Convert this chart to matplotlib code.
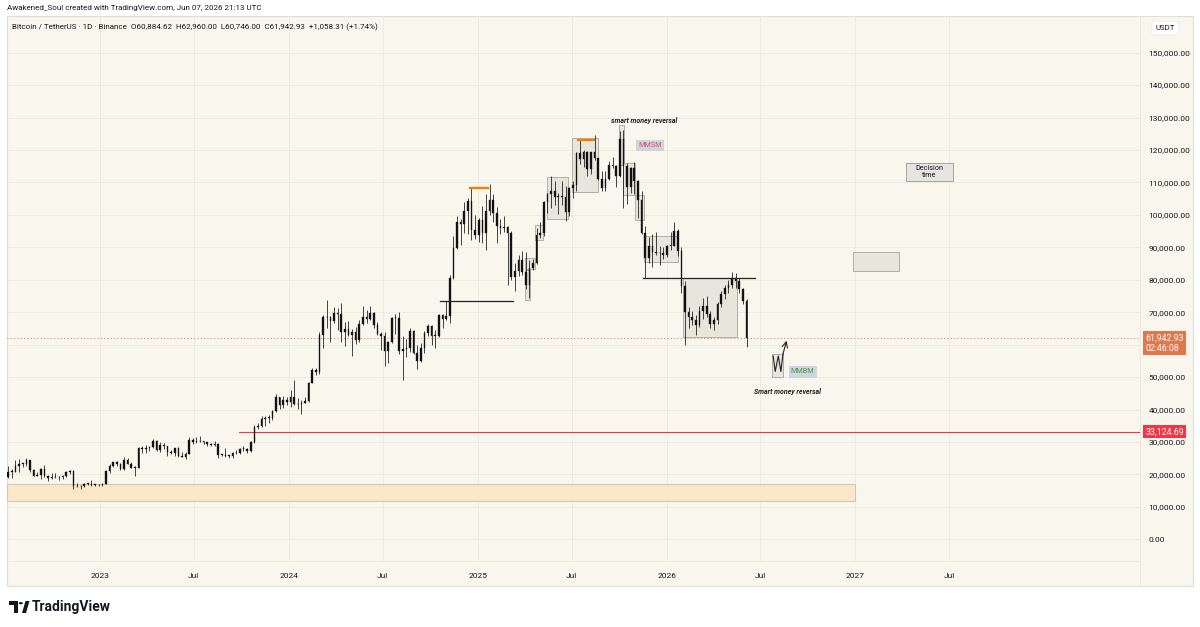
import numpy as np
import pandas as pd
import matplotlib
matplotlib.use("Agg")
import matplotlib.pyplot as plt
import matplotlib.dates as mdates
import matplotlib.transforms as mtransforms
from matplotlib.patches import Rectangle, Polygon, Circle

plt.rcParams['font.family'] = ['Roboto', 'DejaVu Sans']

# BTC/USDT weekly candles (thousands of USDT)
first_open = 19.3
closes_2022 = [20.8, 20.8, 22.6, 23.3, 23.2, 24.3, 21.5, 19.6, 19.8, 21.8, 19.4, 18.8, 19.3,
               19.1, 19.2, 19.6, 20.6, 21.0, 16.3, 16.3, 16.4, 17.1, 17.1, 16.8, 16.8, 16.6]
highs_2022 = [22.5, 21.6, 24.3, 24.7, 23.6, 25.0, 24.4, 21.8, 20.6, 21.9, 22.8, 19.7, 20.4,
              20.5, 19.5, 19.7, 21.0, 21.5, 21.4, 17.2, 16.7, 17.4, 17.4, 18.4, 17.0, 16.9]
lows_2022 = [19.0, 18.9, 20.8, 20.7, 22.4, 22.7, 20.8, 19.5, 19.6, 18.5, 19.3, 18.1, 18.5,
             19.0, 18.2, 18.6, 19.2, 20.0, 15.6, 16.2, 15.5, 16.0, 16.7, 16.5, 16.3, 16.3]

closes_2023 = [17.1, 20.9, 22.7, 23.7, 23.3, 21.8, 24.3, 23.2, 22.0, 22.1, 28.0, 27.9, 28.2,
               28.3, 30.3, 27.6, 29.2, 28.7, 26.9, 26.7, 28.1, 25.8, 25.5, 26.3, 30.5, 30.1,
               30.2, 30.2, 29.9, 29.3, 29.0, 29.3, 26.0, 26.0, 25.8, 25.8, 26.5, 26.5, 27.9,
               27.9, 27.1, 30.0, 34.5, 35.0, 37.1, 37.4, 37.4, 39.5, 43.8, 41.4, 42.8, 42.3]
highs_2023 = [17.2, 21.3, 23.1, 23.8, 24.2, 23.4, 25.3, 25.2, 23.9, 22.6, 28.4, 28.9, 29.2,
              28.8, 31.0, 30.5, 30.0, 29.8, 28.9, 27.5, 28.2, 28.4, 27.0, 26.8, 31.4, 31.3,
              31.5, 31.8, 30.4, 30.0, 29.7, 30.2, 29.6, 26.2, 28.2, 26.0, 26.9, 27.5, 28.0,
              28.6, 28.0, 30.4, 35.2, 35.9, 38.0, 37.9, 38.4, 39.7, 44.7, 43.9, 44.3, 43.8]
lows_2023 = [16.5, 17.1, 20.4, 22.3, 22.5, 21.5, 21.4, 23.1, 21.9, 19.6, 21.9, 26.6, 26.5,
             27.2, 28.1, 27.1, 26.9, 27.7, 25.8, 26.3, 25.8, 25.4, 25.3, 24.8, 26.2, 29.5,
             29.7, 30.0, 29.5, 28.9, 28.6, 28.7, 25.2, 25.6, 25.5, 24.9, 24.9, 26.3, 26.2,
             27.2, 26.5, 26.9, 29.8, 34.1, 34.5, 34.8, 35.7, 36.7, 39.3, 40.2, 40.6, 41.5]

closes_2024 = [43.9, 41.7, 41.6, 42.1, 42.6, 48.3, 52.1, 51.7, 63.1, 68.4, 68.4, 67.2, 69.7,
               69.4, 63.9, 64.9, 63.1, 63.9, 61.5, 66.3, 68.5, 67.8, 69.6, 66.2, 63.2, 62.7,
               58.0, 60.8, 68.2, 68.2, 58.1, 58.7, 58.9, 64.3, 57.3, 54.8, 59.1, 63.6, 65.6,
               62.8, 62.8, 69.0, 68.0, 68.7, 80.4, 89.8, 97.9, 97.2, 101.2, 104.4, 95.2, 93.7,
               98.4]
highs_2024 = [45.9, 49.0, 43.6, 42.9, 43.9, 48.5, 52.8, 52.9, 64.0, 69.0, 73.8, 68.9, 71.7,
              71.3, 72.8, 66.9, 67.3, 64.7, 65.5, 67.7, 71.9, 70.6, 72.0, 70.2, 67.0, 63.8,
              63.8, 61.0, 68.5, 69.4, 70.0, 62.7, 61.8, 65.0, 64.5, 59.8, 60.6, 64.1, 66.5,
              65.9, 64.5, 69.4, 69.5, 73.6, 81.5, 93.5, 99.6, 98.7, 103.9, 105.2, 108.3, 99.9,
              98.9]
lows_2024 = [40.7, 41.5, 40.3, 38.6, 41.9, 42.3, 48.1, 50.6, 51.0, 59.0, 65.0, 60.8, 66.6,
             64.5, 60.7, 59.6, 62.8, 56.6, 60.2, 60.8, 66.1, 66.6, 67.5, 65.1, 63.0, 58.4,
             53.5, 54.3, 60.6, 63.4, 57.1, 49.0, 56.1, 57.8, 57.2, 52.5, 54.6, 57.5, 62.7,
             59.8, 58.9, 62.4, 65.1, 67.5, 66.8, 80.2, 89.4, 90.8, 94.3, 94.2, 92.2, 92.5,
             91.5]

closes_2025 = [94.5, 101.3, 104.7, 100.6, 96.5, 96.1, 96.3, 94.3, 80.7, 82.6, 86.1, 82.4, 78.4,
               83.7, 85.2, 93.7, 94.3, 104.1, 106.4, 107.3, 105.6, 105.7, 105.5, 100.9, 108.4,
               109.2, 119.1, 117.3, 119.4, 114.2, 119.3, 117.4, 111.2, 108.2, 111.1, 115.3,
               115.2, 112.1, 123.5, 115.2, 108.6, 114.5, 110.5, 104.7, 94.5, 86.8, 90.4, 88.4,
               88.2, 88.1, 87.7, 90.5]
highs_2025 = [102.7, 106.4, 109.6, 106.5, 102.5, 98.8, 99.5, 96.5, 95.0, 85.3, 87.5, 88.8, 88.5,
              86.1, 86.4, 95.8, 97.9, 104.3, 106.6, 111.9, 110.4, 106.8, 110.4, 108.9, 108.5,
              110.5, 119.5, 123.2, 120.0, 119.8, 119.3, 124.5, 117.6, 113.5, 113.4, 116.7,
              117.9, 115.4, 125.7, 126.2, 116.0, 114.6, 116.4, 110.6, 107.5, 96.6, 93.1, 94.1,
              94.6, 90.4, 90.0, 90.7]
lows_2025 = [91.2, 89.3, 100.1, 97.7, 91.2, 94.1, 94.8, 78.3, 80.0, 76.6, 81.1, 81.6, 77.2,
             74.5, 83.1, 85.0, 92.9, 93.4, 100.7, 102.0, 103.1, 100.4, 103.1, 98.2, 99.6,
             105.1, 107.5, 115.7, 114.7, 112.0, 112.6, 116.8, 110.6, 107.3, 107.3, 110.6,
             114.4, 108.6, 111.6, 102.0, 103.5, 106.6, 106.3, 98.9, 94.0, 80.6, 85.3, 83.8,
             87.7, 84.4, 86.5, 86.9]

closes_2026 = [90.5, 95.0, 89.0, 78.0, 70.0, 68.5, 67.5, 66.0, 70.5, 72.0, 69.5, 66.5, 67.5,
               72.5, 75.5, 77.5, 78.5, 80.5, 79.5, 77.0, 73.5, 61.94293]
highs_2026 = [94.8, 97.9, 95.5, 90.0, 79.5, 71.5, 70.5, 69.0, 72.0, 74.5, 75.0, 70.5, 68.5,
              73.0, 76.5, 78.5, 80.0, 82.4, 82.0, 80.5, 77.5, 74.0]
lows_2026 = [89.3, 90.3, 87.3, 76.0, 60.0, 65.0, 66.0, 63.0, 65.5, 68.0, 68.5, 65.0, 64.5,
             66.5, 71.5, 74.0, 76.0, 77.5, 77.5, 76.0, 72.5, 59.3]

closes = np.array(closes_2022 + closes_2023 + closes_2024 + closes_2025 + closes_2026) * 1000
highs = np.array(highs_2022 + highs_2023 + highs_2024 + highs_2025 + highs_2026) * 1000
lows = np.array(lows_2022 + lows_2023 + lows_2024 + lows_2025 + lows_2026) * 1000
opens = np.concatenate([[first_open * 1000], closes[:-1]])
week_start = pd.date_range("2022-07-04", periods=len(closes), freq="7D")

last_price = 61942.93
key_level = 33124.69

# drawings on the chart: (start, end, low, high)
zones = [
    ("2025-04-02", "2025-04-11", 73700, 83000),
    ("2025-04-02", "2025-04-21", 83200, 86600),
    ("2025-04-21", "2025-05-07", 92200, 96900),
    ("2025-05-15", "2025-06-25", 98600, 111700),
    ("2025-07-02", "2025-08-22", 107100, 123600),
    ("2025-10-01", "2025-10-11", 115500, 127700),
    ("2025-10-08", "2025-11-01", 106100, 116000),
    ("2025-11-01", "2025-11-19", 98400, 106100),
    ("2025-11-19", "2026-01-23", 85500, 93500),
    ("2026-02-01", "2026-05-18", 62200, 80400),
    ("2026-12-27", "2027-03-26", 82700, 88500),
    ("2026-07-23", "2026-08-15", 50100, 57000),
]
decision_zone = ("2027-04-09", "2027-07-08", 110400, 116000)
demand_band = ("2026-12-31", 11700, 17100)
black_levels = [("2024-10-19", "2025-03-09", 73400), ("2025-11-16", "2026-06-21", 80600)]
orange_levels = [("2024-12-17", "2025-01-20", 108300), ("2025-07-14", "2025-08-14", 123200)]
w_dates = ["2026-07-26", "2026-07-30", "2026-08-05", "2026-08-10", "2026-08-14"]
w_prices = [56500, 51700, 56500, 51700, 57100]
w_arrow = ("2026-08-21", 61200)

W, H = 1200, 627
fig = plt.figure(figsize=(12, 6.27), dpi=100, facecolor='white')
cream = '#f9f6ee'
grid_c = '#ede9de'
ink = '#131722'

def fx(px):
    return px / W

def fy(py):
    return 1 - py / H

fig.add_artist(Rectangle((fx(7), fy(586)), fx(1186), 570 / H, transform=fig.transFigure,
                         facecolor=cream, edgecolor='#e2ded3', lw=0.8, zorder=-1))

ax = fig.add_axes([fx(7), fy(561), fx(1133), (561 - 16) / H])
ax.set_facecolor('none')
for s in ax.spines.values():
    s.set_visible(False)

d0 = mdates.datestr2num("2023-01-01")
x_left, x_right = d0 - 179.9, d0 + 2011.6
ax.set_xlim(x_left, x_right)
ax.set_ylim(-6700, 161300)

# grid
yt = np.arange(0, 150001, 10000)
for v in yt:
    ax.axhline(v, color=grid_c, lw=0.6, zorder=0)
xt_dates = ["2023-01-01", "2023-07-01", "2024-01-01", "2024-07-01", "2025-01-01",
            "2025-07-01", "2026-01-01", "2026-07-01", "2027-01-01", "2027-07-01"]
xt_labels = ["2023", "Jul", "2024", "Jul", "2025", "Jul", "2026", "Jul", "2027", "Jul"]
xt = mdates.datestr2num(xt_dates)
for v in xt:
    ax.axvline(v, color=grid_c, lw=0.6, zorder=0)

ax.set_xticks(xt)
ax.set_xticklabels(xt_labels)
ax.yaxis.tick_right()
yt_show = [v for v in yt if v != 60000]
ax.set_yticks(yt_show)
ax.set_yticklabels([f"{v:,.2f}" for v in yt_show])
ax.tick_params(axis='both', length=0, labelsize=6, colors=ink)
ax.tick_params(axis='y', pad=6)
ax.tick_params(axis='x', pad=9)

# drawings
for s, e, lo, hi in zones:
    a, b = mdates.datestr2num(s), mdates.datestr2num(e)
    ax.add_patch(Rectangle((a, lo), b - a, hi - lo, facecolor='#e8e5dd', edgecolor='#a9a59d',
                           lw=0.6, zorder=1))
s, e, lo, hi = decision_zone
a, b = mdates.datestr2num(s), mdates.datestr2num(e)
ax.add_patch(Rectangle((a, lo), b - a, hi - lo, facecolor='#e7e5df', edgecolor='#a3a3a3',
                       lw=0.7, zorder=1))
ax.text((a + b) / 2, (lo + hi) / 2, "Decision\ntime", ha='center', va='center', fontsize=5.2,
        color=ink, linespacing=1.0, zorder=5)

e, lo, hi = demand_band
b = mdates.datestr2num(e)
ax.add_patch(Rectangle((x_left, lo), b - x_left, hi - lo, facecolor='#fbe6c8',
                       edgecolor='#cfc6b5', lw=0.8, zorder=1))

ax.plot([mdates.datestr2num("2023-09-26"), x_right], [key_level, key_level], color='#f23645',
        lw=0.8, zorder=2, clip_on=False)
ax.axhline(last_price, color='#e08a68', lw=0.8, ls=(0, (1, 2)), zorder=2)

for s, e, v in black_levels:
    ax.plot(mdates.datestr2num([s, e]), [v, v], color='#222222', lw=0.9, zorder=5)
for s, e, v in orange_levels:
    ax.plot(mdates.datestr2num([s, e]), [v, v], color='#f57c00', lw=1.6, zorder=5)

# candles
xc = mdates.date2num(week_start.to_pydatetime()) + 3.5
ax.vlines(xc, lows, highs, color='#111111', lw=0.55, zorder=3)
body = np.maximum(np.abs(closes - opens), 200)
ax.bar(xc, body, bottom=np.minimum(opens, closes), width=3.2, color='#111111',
       edgecolor='#111111', linewidth=0.25, zorder=4)

# W projection
wx = mdates.datestr2num(w_dates)
ax.plot(wx, w_prices, color='#222222', lw=0.8, zorder=5)
ax.annotate("", xy=(mdates.datestr2num(w_arrow[0]), w_arrow[1]), xytext=(wx[-1], w_prices[-1]),
            arrowprops=dict(arrowstyle='->', color='#222222', lw=0.8, shrinkA=0, shrinkB=0),
            zorder=5)

ax.text(mdates.datestr2num("2025-11-19"), 129200, "smart money reversal", ha='center',
        va='center', fontsize=5.0, style='italic', weight='bold', color='#222222', zorder=5)
ax.text(mdates.datestr2num("2026-08-23"), 45700, "Smart money reversal", ha='center',
        va='center', fontsize=5.0, style='italic', weight='bold', color='#222222', zorder=5)
ax.text(mdates.datestr2num("2025-11-30"), 121300, "MMSM", ha='center', va='center', fontsize=5.2,
        color='#e84a68', zorder=5,
        bbox=dict(boxstyle='square,pad=0.3', facecolor='#cdd5df', edgecolor='none'))
ax.text(mdates.datestr2num("2026-09-21"), 51600, "MMBM", ha='center', va='center', fontsize=5.2,
        color='#43a047', zorder=5,
        bbox=dict(boxstyle='square,pad=0.3', facecolor='#cdd5df', edgecolor='none'))

# price axis labels
tr = mtransforms.blended_transform_factory(ax.transAxes, ax.transData)
ax.text(1.0045, key_level, "33,124.69", transform=tr, ha='left', va='center', fontsize=6.3,
        color='white', zorder=10, clip_on=False,
        bbox=dict(boxstyle='square,pad=0.22', facecolor='#f23645', edgecolor='none'))
ax.text(1.0045, last_price - 1500, "61,942.93\n02:46:08", transform=tr, ha='left', va='center',
        fontsize=6.3, color='white', linespacing=1.15, zorder=10, clip_on=False,
        bbox=dict(boxstyle='square,pad=0.25', facecolor='#e0784f', edgecolor='none'))

# separators and price-axis header
fig.add_artist(plt.Line2D([fx(1140), fx(1140)], [fy(16), fy(586)], color='#ebe7dc', lw=0.6))
fig.add_artist(plt.Line2D([fx(7), fx(1140)], [fy(561), fy(561)], color='#ebe7dc', lw=0.6))
fig.text(fx(1165.5), fy(28), "USDT", ha='center', va='center', fontsize=5.6, color=ink,
         bbox=dict(boxstyle='round,pad=0.5,rounding_size=0.3', facecolor='white',
                   edgecolor='#ebe7dc', lw=0.5))

# header texts
fig.text(fx(7), fy(8), "Awakened_Soul created with TradingView.com, Jun 07, 2026 21:13 UTC",
         ha='left', va='center', fontsize=5.8, color=ink)
fig.text(fx(12), fy(27),
         "Bitcoin / TetherUS \u00b7 1D \u00b7 Binance  O60,884.62  H62,960.00  L60,746.00  "
         "C61,942.93  +1,058.31 (+1.74%)",
         ha='left', va='center', fontsize=5.8, color=ink)

# TradingView logo
fig.add_artist(Polygon([[fx(9), fy(601)], [fx(18), fy(601)], [fx(18), fy(613)], [fx(14), fy(613)],
                        [fx(14), fy(605)], [fx(9), fy(605)]], closed=True,
                       transform=fig.transFigure, facecolor=ink, edgecolor='none'))
fig.add_artist(Circle((fx(20.8), fy(603.2)), 2.1 / W, transform=fig.transFigure,
                      facecolor=ink, edgecolor='none'))
fig.add_artist(Polygon([[fx(22), fy(613)], [fx(25.5), fy(601)], [fx(29.5), fy(601)],
                        [fx(26), fy(613)]], closed=True, transform=fig.transFigure,
                       facecolor=ink, edgecolor='none'))
fig.text(fx(32), fy(607), "TradingView", ha='left', va='center', fontsize=10, weight='semibold',
         color=ink)

fig.savefig("out.png", dpi=100, facecolor='white')
